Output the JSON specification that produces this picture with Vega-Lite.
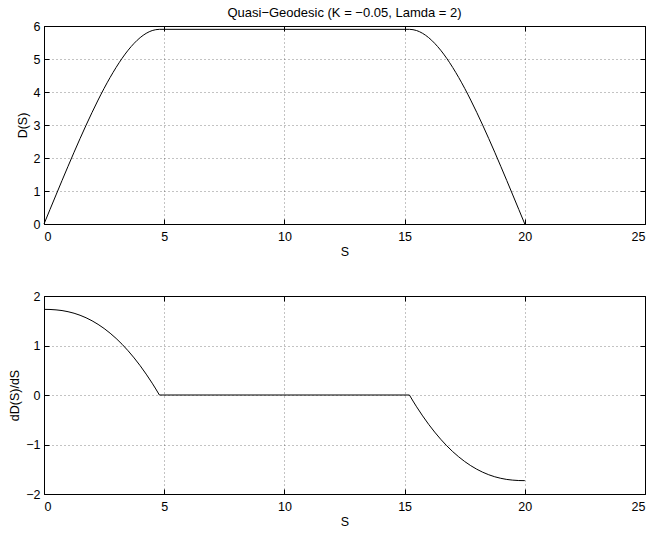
{
  "$schema": "https://vega.github.io/schema/vega-lite/v6.json",
  "background": "white",
  "padding": {"left": 6, "top": 6, "right": 5, "bottom": 5},
  "config": {
    "font": "Liberation Sans",
    "view": {"stroke": "black", "strokeWidth": 1},
    "concat": {"spacing": 31},
    "axis": {
      "labelFont": "Liberation Sans", "labelFontSize": 12.5, "labelColor": "black",
      "titleFont": "Liberation Sans", "titleFontSize": 12.5, "titleFontWeight": "normal", "titleColor": "black",
      "domain": false, "tickColor": "black", "tickSize": -5,
      "gridColor": "black", "gridDash": [1, 3], "gridWidth": 0.6, "gridOpacity": 0.8
    },
    "axisX": {"labelPadding": 11.5, "titlePadding": 2},
    "axisY": {"labelPadding": 9, "minExtent": 37, "maxExtent": 37}
  },
  "datasets": {
    "d": [
      {"S": 0, "D": 0, "dD": 1.73},
      {"S": 0.25, "D": 0.441, "dD": 1.728},
      {"S": 0.5, "D": 0.88, "dD": 1.72},
      {"S": 0.75, "D": 1.317, "dD": 1.706},
      {"S": 1, "D": 1.749, "dD": 1.683},
      {"S": 1.25, "D": 2.174, "dD": 1.652},
      {"S": 1.5, "D": 2.589, "dD": 1.611},
      {"S": 1.75, "D": 2.993, "dD": 1.56},
      {"S": 2, "D": 3.383, "dD": 1.499},
      {"S": 2.25, "D": 3.756, "dD": 1.427},
      {"S": 2.5, "D": 4.11, "dD": 1.344},
      {"S": 2.75, "D": 4.44, "dD": 1.249},
      {"S": 3, "D": 4.745, "dD": 1.143},
      {"S": 3.25, "D": 5.022, "dD": 1.024},
      {"S": 3.5, "D": 5.267, "dD": 0.893},
      {"S": 3.75, "D": 5.476, "dD": 0.749},
      {"S": 4, "D": 5.648, "dD": 0.592},
      {"S": 4.25, "D": 5.777, "dD": 0.422},
      {"S": 4.5, "D": 5.862, "dD": 0.239},
      {"S": 4.65, "D": 5.889, "dD": 0.122},
      {"S": 4.8, "D": 5.899, "dD": 0},
      {"S": 15.2, "D": 5.899, "dD": 0},
      {"S": 15.35, "D": 5.889, "dD": -0.122},
      {"S": 15.5, "D": 5.862, "dD": -0.239},
      {"S": 15.75, "D": 5.777, "dD": -0.422},
      {"S": 16, "D": 5.648, "dD": -0.592},
      {"S": 16.25, "D": 5.476, "dD": -0.749},
      {"S": 16.5, "D": 5.267, "dD": -0.893},
      {"S": 16.75, "D": 5.022, "dD": -1.024},
      {"S": 17, "D": 4.745, "dD": -1.143},
      {"S": 17.25, "D": 4.44, "dD": -1.249},
      {"S": 17.5, "D": 4.11, "dD": -1.344},
      {"S": 17.75, "D": 3.756, "dD": -1.427},
      {"S": 18, "D": 3.383, "dD": -1.499},
      {"S": 18.25, "D": 2.993, "dD": -1.56},
      {"S": 18.5, "D": 2.589, "dD": -1.611},
      {"S": 18.75, "D": 2.174, "dD": -1.652},
      {"S": 19, "D": 1.749, "dD": -1.683},
      {"S": 19.25, "D": 1.317, "dD": -1.706},
      {"S": 19.5, "D": 0.88, "dD": -1.72},
      {"S": 19.75, "D": 0.441, "dD": -1.728},
      {"S": 20, "D": 0, "dD": -1.73}
    ]
  },
  "vconcat": [
    {
      "width": 601,
      "height": 198,
      "title": {"text": "Quasi−Geodesic (K = −0.05, Lamda = 2)", "fontSize": 13, "fontWeight": "normal", "font": "Liberation Sans", "color": "black", "offset": 0},
      "data": {"name": "d"},
      "layer": [
        {
          "mark": {"type": "line", "color": "black", "strokeWidth": 1, "interpolate": "monotone"},
          "encoding": {
            "x": {"field": "S", "type": "quantitative", "scale": {"domain": [0, 25], "nice": false},
                  "axis": {"values": [0, 5, 10, 15, 20, 25], "title": "S", "grid": true}},
            "y": {"field": "D", "type": "quantitative", "scale": {"domain": [0, 6], "nice": false},
                  "axis": {"values": [0, 1, 2, 3, 4, 5, 6], "title": "D(S)", "grid": true, "titleX": -15}}
          }
        },
        {
          "mark": {"type": "line", "opacity": 0},
          "encoding": {
            "x": {"field": "S", "type": "quantitative",
                  "axis": {"orient": "top", "values": [0, 5, 10, 15, 20, 25], "labels": false, "title": null, "grid": false, "minExtent": 0, "maxExtent": 0}},
            "y": {"field": "D", "type": "quantitative",
                  "axis": {"orient": "right", "values": [0, 1, 2, 3, 4, 5, 6], "labels": false, "title": null, "grid": false, "minExtent": 0, "maxExtent": 0}}
          }
        }
      ],
      "resolve": {"axis": {"x": "independent", "y": "independent"}}
    },
    {
      "width": 601,
      "height": 198,
      "data": {"name": "d"},
      "layer": [
        {
          "mark": {"type": "line", "color": "black", "strokeWidth": 1},
          "encoding": {
            "x": {"field": "S", "type": "quantitative", "scale": {"domain": [0, 25], "nice": false},
                  "axis": {"values": [0, 5, 10, 15, 20, 25], "title": "S", "grid": true}},
            "y": {"field": "dD", "type": "quantitative", "scale": {"domain": [-2, 2], "nice": false},
                  "axis": {"values": [-2, -1, 0, 1, 2], "title": "dD(S)/dS", "grid": true, "titleX": -23}}
          }
        },
        {
          "mark": {"type": "line", "opacity": 0},
          "encoding": {
            "x": {"field": "S", "type": "quantitative",
                  "axis": {"orient": "top", "values": [0, 5, 10, 15, 20, 25], "labels": false, "title": null, "grid": false, "minExtent": 0, "maxExtent": 0}},
            "y": {"field": "dD", "type": "quantitative",
                  "axis": {"orient": "right", "values": [-2, -1, 0, 1, 2], "labels": false, "title": null, "grid": false, "minExtent": 0, "maxExtent": 0}}
          }
        }
      ],
      "resolve": {"axis": {"x": "independent", "y": "independent"}}
    }
  ]
}
